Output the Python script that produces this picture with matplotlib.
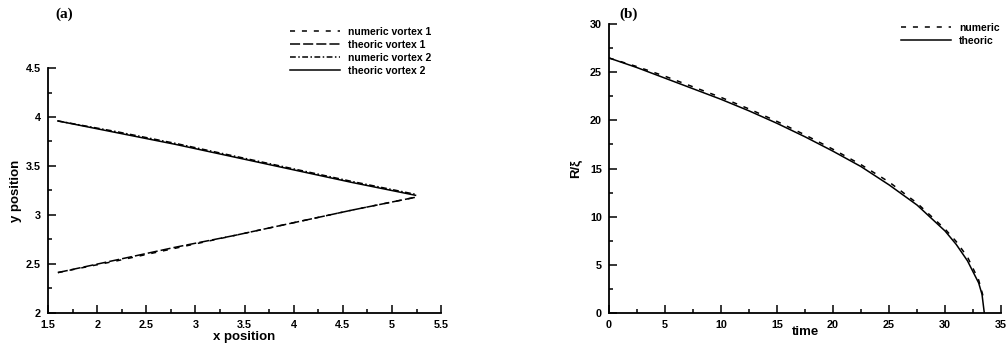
import matplotlib
matplotlib.use("Agg")
import matplotlib.pyplot as plt
from matplotlib.ticker import MultipleLocator

plt.rcParams['font.family'] = ['Liberation Sans', 'DejaVu Sans']
plt.rcParams['font.weight'] = 'bold'

# panel (a): vortex positions
x_num1 = [1.60, 2.20, 2.80, 3.40, 4.00, 4.60, 5.24]
y_num1 = [2.41, 2.53, 2.66, 2.79, 2.92, 3.05, 3.18]
x_th1 = [1.60, 2.20, 2.80, 3.40, 4.00, 4.60, 5.24]
y_th1 = [2.41, 2.54, 2.67, 2.79, 2.92, 3.05, 3.18]
x_num2 = [1.60, 2.20, 2.80, 3.40, 4.00, 4.60, 5.24]
y_num2 = [3.96, 3.85, 3.73, 3.60, 3.47, 3.34, 3.21]
x_th2 = [1.60, 2.20, 2.80, 3.40, 4.00, 4.60, 5.24]
y_th2 = [3.96, 3.84, 3.72, 3.59, 3.46, 3.33, 3.20]

# panel (b): ring radius vs time
t_num = [0, 2.5, 5, 7.5, 10, 12.5, 15, 17.5, 20, 22.5, 25, 27.5, 30, 31, 32, 33, 33.4]
r_num = [26.5, 25.6, 24.6, 23.5, 22.4, 21.2, 19.9, 18.5, 17.0, 15.4, 13.6, 11.4, 8.7, 7.4, 5.8, 3.4, 1.7]
t_th = [0, 2.5, 5, 7.5, 10, 12.5, 15, 17.5, 20, 22.5, 25, 27.5, 30, 31, 32, 33, 33.3, 33.5]
r_th = [26.5, 25.5, 24.4, 23.3, 22.2, 21.0, 19.7, 18.3, 16.8, 15.2, 13.3, 11.2, 8.5, 7.1, 5.4, 3.1, 1.9, 0.0]

SHORT = (3.3, 4.5)
LONG = (6.6, 2.0)
DASHDOT = (3.8, 1.6, 1.0, 1.6)


def style_axes(ax):
    ax.spines['top'].set_visible(False)
    ax.spines['right'].set_visible(False)
    for s in ('left', 'bottom'):
        ax.spines[s].set_linewidth(1.3)
    ax.tick_params(which='both', direction='in', width=1.1, labelsize=7.8, pad=5)
    ax.tick_params(which='major', length=6)
    ax.tick_params(which='minor', length=3)


fig = plt.figure(figsize=(10.07, 3.53), dpi=100)

ax1 = fig.add_axes([0.0477, 0.1142, 0.3903, 0.6928])
ax1.plot(x_num1, y_num1, color='black', lw=1.1, dashes=SHORT, label='numeric vortex 1')
ax1.plot(x_th1, y_th1, color='black', lw=1.1, dashes=LONG, label='theoric vortex 1')
ax1.plot(x_num2, y_num2, color='black', lw=1.1, dashes=DASHDOT, label='numeric vortex 2')
ax1.plot(x_th2, y_th2, color='black', lw=1.1, label='theoric vortex 2')
ax1.set_xlim(1.5, 5.5)
ax1.set_ylim(2, 4.5)
ax1.xaxis.set_major_locator(MultipleLocator(0.5))
ax1.xaxis.set_minor_locator(MultipleLocator(0.25))
ax1.yaxis.set_major_locator(MultipleLocator(0.5))
ax1.yaxis.set_minor_locator(MultipleLocator(0.25))
ax1.xaxis.set_major_formatter(plt.FuncFormatter(lambda v, p: f"{v:g}"))
ax1.yaxis.set_major_formatter(plt.FuncFormatter(lambda v, p: f"{v:g}"))
style_axes(ax1)
ax1.set_xlabel("x position", fontsize=9.5, fontweight='bold', labelpad=1)
ax1.set_ylabel("y position", fontsize=9.5, fontweight='bold', labelpad=3)
ax1.legend(loc='upper left', bbox_to_anchor=(0.283, 0.939), bbox_transform=fig.transFigure,
           frameon=False, fontsize=7.5, handlelength=4.8, handletextpad=0.75,
           labelspacing=0.3, borderpad=0)
fig.text(0.055, 0.96, "(a)", family='Liberation Serif', fontweight='bold', fontsize=11,
         ha='left', va='center')

ax2 = fig.add_axes([0.6048, 0.1142, 0.3893, 0.8168])
ax2.plot(t_num, r_num, color='black', lw=1.1, dashes=SHORT, label='numeric')
ax2.plot(t_th, r_th, color='black', lw=1.1, label='theoric')
ax2.set_xlim(0, 35)
ax2.set_ylim(0, 30)
ax2.xaxis.set_major_locator(MultipleLocator(5))
ax2.xaxis.set_minor_locator(MultipleLocator(2.5))
ax2.yaxis.set_major_locator(MultipleLocator(5))
ax2.yaxis.set_minor_locator(MultipleLocator(2.5))
style_axes(ax2)
ax2.set_ylabel("R/ξ", fontsize=9.5, fontweight='bold', labelpad=6)
fig.text(0.7995, 0.06, "time", fontsize=9.5, fontweight='bold', ha='center', va='center')
ax2.legend(loc='upper left', bbox_to_anchor=(0.890, 0.951), bbox_transform=fig.transFigure,
           frameon=False, fontsize=7.5, handlelength=4.8, handletextpad=0.75,
           labelspacing=0.3, borderpad=0)
fig.text(0.615, 0.96, "(b)", family='Liberation Serif', fontweight='bold', fontsize=11,
         ha='left', va='center')

fig.savefig("out.png", dpi=100)
plt.close(fig)
